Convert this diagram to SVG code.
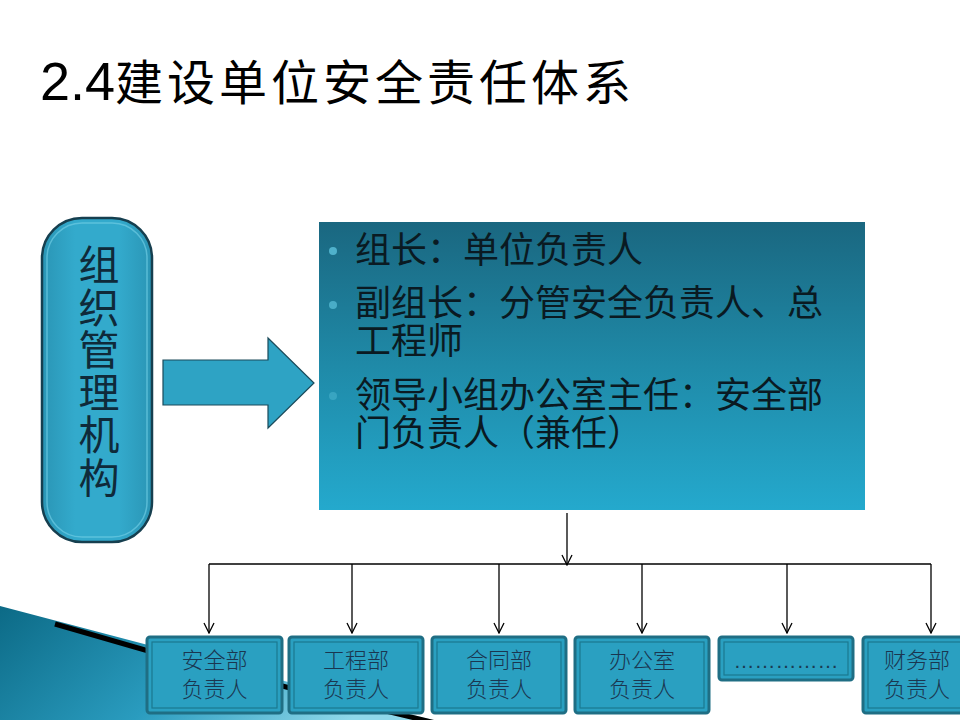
<svg xmlns="http://www.w3.org/2000/svg" width="960" height="720" viewBox="0 0 960 720">
<defs>
<style>
.cjk{font-family:"Noto Sans CJK SC","Noto Sans",sans-serif;}
.bt{font-size:22px;fill:#1a3650;text-anchor:middle;font-family:"Noto Sans CJK SC",sans-serif;font-weight:300;}
.bul{font-size:36px;fill:#0a1a22;font-family:"Noto Sans CJK SC",sans-serif;}
.conn{stroke:#000;stroke-width:1.3;fill:none;}
.box{fill:#2aa0c1;stroke:#1f6e84;stroke-width:3;}
.inner{fill:none;stroke:#1c7890;stroke-width:1.2;}
</style>
<linearGradient id="gMain" x1="0" y1="0" x2="0" y2="1">
<stop offset="0" stop-color="#1a6780"/>
<stop offset="0.5" stop-color="#1f8aa8"/>
<stop offset="1" stop-color="#24a9cd"/>
</linearGradient>
<linearGradient id="gLeft" x1="0" y1="0" x2="1" y2="0">
<stop offset="0" stop-color="#2a95b5"/>
<stop offset="0.3" stop-color="#33aacc"/>
<stop offset="0.7" stop-color="#33aacc"/>
<stop offset="1" stop-color="#2a95b5"/>
</linearGradient>
<linearGradient id="gSwoosh" x1="0" y1="0" x2="1" y2="0.3">
<stop offset="0" stop-color="#0c6a86"/>
<stop offset="0.55" stop-color="#2a9cbf"/>
<stop offset="1" stop-color="#8fd8ea"/>
</linearGradient>
<marker id="ah" viewBox="0 0 12 12" refX="11" refY="6" markerWidth="12" markerHeight="12" markerUnits="userSpaceOnUse" orient="auto">
<path d="M1,1 L11,6 L1,11" fill="none" stroke="#000" stroke-width="1.3"/>
</marker>
</defs>
<rect width="960" height="720" fill="#ffffff"/>

<g id="background">
<path d="M0,606 L440,722 L440,720 L0,720 Z" fill="url(#gSwoosh)"/>
<path d="M55,624 L145,650 L290,688 L440,724" fill="none" stroke="#000" stroke-width="5"/>
</g>

<g id="title">
<text x="40" y="100" font-family="'Liberation Sans',sans-serif" font-size="54" fill="#000">2.4<tspan font-family="'Noto Sans CJK SC',sans-serif" font-size="48" letter-spacing="4">建设单位安全责任体系</tspan></text>
</g>

<g id="node-org">
<rect x="42" y="218" width="110" height="324" rx="40" ry="40" fill="url(#gLeft)" stroke="#163f4f" stroke-width="2.5"/>
<rect x="47" y="223" width="100" height="314" rx="35" ry="35" fill="none" stroke="#6ccbe3" stroke-width="1.5" opacity="0.7"/>
<text class="cjk" x="99" y="244" writing-mode="vertical-rl" font-size="41" letter-spacing="1.5" fill="#0f2a3a">组织管理机构</text>
</g>

<g id="node-arrow">
<path d="M163,360 L268,360 L268,338 L314,383 L268,428 L268,405 L163,405 Z" fill="#2ea3c4" stroke="#1a4a5a" stroke-width="1.2"/>
</g>

<g id="node-group">
<rect x="319" y="222" width="546" height="288" fill="url(#gMain)"/>
<circle cx="333" cy="251" r="4" fill="#5cc2dc" opacity="0.8"/>
<circle cx="333" cy="305" r="4" fill="#5cc2dc" opacity="0.7"/>
<circle cx="333" cy="396" r="4" fill="#5cc2dc" opacity="0.4"/>
<text class="bul" x="355" y="263">组长：单位负责人</text>
<text class="bul"><tspan x="355" y="316">副组长：分管安全负责人、总</tspan><tspan x="355" y="354">工程师</tspan></text>
<text class="bul"><tspan x="355" y="408">领导小组办公室主任：安全部</tspan><tspan x="355" y="446">门负责人（兼任）</tspan></text>
</g>

<g id="connectors">
<line class="conn" x1="567" y1="513" x2="567" y2="565" marker-end="url(#ah)"/>
<line class="conn" x1="209" y1="564" x2="931" y2="564"/>
<line class="conn" x1="209" y1="564" x2="209" y2="633" marker-end="url(#ah)"/>
<line class="conn" x1="352" y1="564" x2="352" y2="633" marker-end="url(#ah)"/>
<line class="conn" x1="499" y1="564" x2="499" y2="633" marker-end="url(#ah)"/>
<line class="conn" x1="642" y1="564" x2="642" y2="633" marker-end="url(#ah)"/>
<line class="conn" x1="787" y1="564" x2="787" y2="633" marker-end="url(#ah)"/>
<line class="conn" x1="931" y1="564" x2="931" y2="633" marker-end="url(#ah)"/>
</g>

<g id="node-safety">
<rect class="box" x="147" y="637" width="135" height="76" rx="3"/>
<rect class="inner" x="152" y="642" width="125" height="66"/>
<text class="bt" x="214.5" y="668">安全部</text>
<text class="bt" x="214.5" y="697">负责人</text>
</g>
<g id="node-engineering">
<rect class="box" x="289" y="637" width="134" height="76" rx="3"/>
<rect class="inner" x="294" y="642" width="124" height="66"/>
<text class="bt" x="356" y="668">工程部</text>
<text class="bt" x="356" y="697">负责人</text>
</g>
<g id="node-contract">
<rect class="box" x="432" y="637" width="134" height="76" rx="3"/>
<rect class="inner" x="437" y="642" width="124" height="66"/>
<text class="bt" x="499" y="668">合同部</text>
<text class="bt" x="499" y="697">负责人</text>
</g>
<g id="node-office">
<rect class="box" x="575" y="637" width="134" height="76" rx="3"/>
<rect class="inner" x="580" y="642" width="124" height="66"/>
<text class="bt" x="642" y="668">办公室</text>
<text class="bt" x="642" y="697">负责人</text>
</g>
<g id="node-etc">
<rect class="box" x="719" y="637" width="134" height="43" rx="3"/>
<rect class="inner" x="724" y="642" width="124" height="33"/>
<text x="786" y="668" font-family="'Liberation Sans',sans-serif" font-size="21" fill="#1b3a52" text-anchor="middle">……………</text>
</g>
<g id="node-finance">
<rect class="box" x="863" y="637" width="134" height="76" rx="3"/>
<rect class="inner" x="868" y="642" width="124" height="66"/>
<text class="bt" x="917" y="668">财务部</text>
<text class="bt" x="917" y="697">负责人</text>
</g>
</svg>
